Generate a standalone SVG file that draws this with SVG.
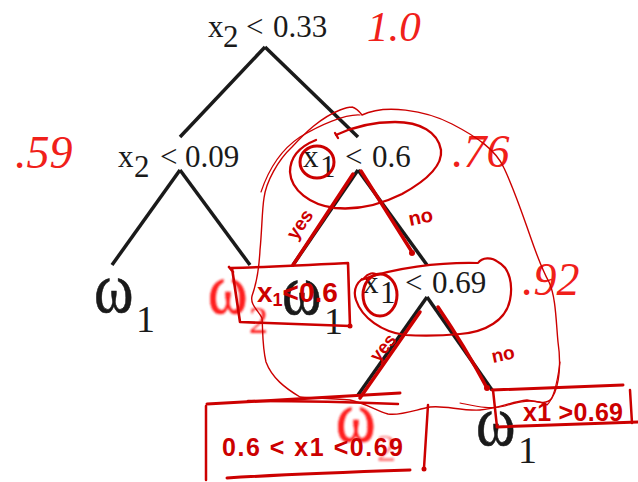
<svg xmlns="http://www.w3.org/2000/svg" width="638" height="482" viewBox="0 0 638 482">
<defs>
<style>
.t{font-family:"Liberation Serif","Times New Roman",serif;fill:#1a1a1a}
.n{font-size:31px}
.w{font-family:"Liberation Serif","Times New Roman",serif;font-size:60px;fill:#1a1a1a;stroke:#1a1a1a;stroke-width:0.5}
.ws{font-family:"Liberation Serif","Times New Roman",serif;font-size:38px;fill:#1a1a1a}
.red{fill:#ff1a1a;stroke:#ff1a1a}
.num{font-family:"Liberation Serif","Times New Roman",serif;fill:#f0201a;font-style:italic}
.ink{fill:none;stroke:#cc0000;stroke-linecap:round;stroke-linejoin:round}
.hw{font-family:"Liberation Sans",Arial,sans-serif;fill:#cc0000;font-weight:bold}
.edge{stroke:#1a1a1a;stroke-width:3.5;fill:none}
</style>
<filter id="blur" x="-20%" y="-20%" width="140%" height="140%"><feGaussianBlur stdDeviation="1.3"/></filter>
</defs>
<rect width="638" height="482" fill="#fff"/>

<g id="connectors">
<line class="edge" x1="265" y1="47" x2="180" y2="137"/>
<line class="edge" x1="265" y1="47" x2="358" y2="137"/>
<line class="edge" x1="180" y1="170" x2="112" y2="265"/>
<line class="edge" x1="180" y1="170" x2="250" y2="265"/>
<line class="edge" x1="358" y1="170" x2="293" y2="265"/>
<line class="edge" x1="358" y1="170" x2="427" y2="265"/>
<line class="edge" x1="427" y1="297" x2="358" y2="395"/>
<line class="edge" x1="427" y1="297" x2="492" y2="390"/>
</g>

<g id="root">
<text class="t n" y="37"><tspan x="208">x</tspan><tspan x="223" y="47">2</tspan><tspan x="246" y="37">&lt;</tspan><tspan x="273">0.33</tspan></text>
<text class="num" x="367" y="41" font-size="43">1.0</text>
</g>

<g id="node-x2-009">
<text class="t n" y="167"><tspan x="118">x</tspan><tspan x="134" y="177">2</tspan><tspan x="160" y="167">&lt;</tspan><tspan x="185">0.09</tspan></text>
<text class="num" x="15" y="168" font-size="46">.59</text>
</g>

<g id="node-x1-06">
<text class="t n" y="167"><tspan x="303">x</tspan><tspan x="320" y="177">1</tspan><tspan x="345" y="167">&lt;</tspan><tspan x="372">0.6</tspan></text>
<text class="num" x="452" y="167" font-size="46">.76</text>
</g>

<g id="node-x1-069">
<text class="t n" y="293"><tspan x="363">x</tspan><tspan x="380" y="303">1</tspan><tspan x="405" y="293">&lt;</tspan><tspan x="432">0.69</tspan></text>
<text class="num" x="522" y="295" font-size="46" font-style="normal">.92</text>
</g>

<g id="leaf-1">
<text class="w" transform="translate(94,312) scale(1,1.2)">ω</text>
<text class="ws" x="136" y="332">1</text>
</g>
<g id="leaf-2" filter="url(#blur)">
<text class="w red" transform="translate(208,313) scale(1,1.2)">ω</text>
<text class="ws red" x="249" y="333" stroke-width="0">2</text>
</g>
<g id="leaf-3">
<text class="w" transform="translate(282,314) scale(1,1.2)">ω</text>
<text class="ws" x="324" y="334">1</text>
</g>
<g id="leaf-4" filter="url(#blur)">
<text class="w red" transform="translate(336,441) scale(1,1.2)">ω</text>
<text class="ws red" x="377" y="461" stroke-width="0" opacity="0.6">2</text>
</g>
<g id="leaf-5">
<text class="w" transform="translate(476,445) scale(1,1.2)">ω</text>
<text class="ws" x="518" y="463">1</text>
</g>

<g id="annotations">
<!-- big outline -->
<path class="ink" stroke-width="1.4" d="M 352,107 C 356,108 359,111 362,115 C 385,104 425,110 452,124 C 477,137 496,150 504,168 C 513,187 520,207 527,227 C 534,247 540,266 549,282 C 556,297 556,322 558,342 C 561,362 560,385 552,398 C 546,406 535,401 527,400 C 510,402 497,409 480,410 C 460,411 445,405 430,407 C 415,410 400,416 388,414 C 375,410 365,403 350,400 C 330,398 310,398 300,397 C 285,388 272,378 266,362 C 262,345 263,330 262,318 C 258,310 250,305 252,296 C 256,285 259,270 260,250 C 262,230 262,210 264,198 C 266,182 278,160 292,147 C 305,133 320,118 340,110 C 345,108 349,107 352,107"/>
<path class="ink" stroke-width="1.2" d="M 360,115 C 345,114 320,125 300,137 C 285,147 270,165 261,192"/>
<path class="ink" stroke-width="1.2" d="M 460,403 C 475,406 490,410 505,406 C 520,401 535,398 547,405 C 553,400 557,385 560,362"/>
<!-- ellipse around x1<0.6 -->
<path class="ink" stroke-width="2.3" d="M 335,133 L 338,138 M 336,135 C 355,126 375,122 395,122 C 420,122 438,132 441,150 C 443,168 422,183 402,194 C 380,205 356,210 335,208 C 310,205 291,190 290,172 C 290,156 301,146 316,140"/>
<ellipse class="ink" stroke-width="3" cx="317" cy="162" rx="17" ry="16"/>
<path class="ink" stroke-width="3.5" d="M 353,174 L 293,265"/>
<path class="ink" stroke-width="3.5" d="M 361,171 L 412,252"/>
<circle cx="412" cy="253" r="3" fill="#cc0000"/>
<text class="hw" font-size="19" transform="translate(296,241) rotate(-55)">yes</text>
<text class="hw" font-size="20" transform="translate(410,226) rotate(-12)">no</text>
<!-- box x1<0.6 -->
<path class="ink" stroke-width="2.6" d="M 229,267 L 233,272 M 231,268 C 270,267 310,265 348,263 L 350,326 C 315,325 275,323 240,322 L 232,268"/>
<circle cx="350" cy="326" r="2.5" fill="#cc0000"/>
<text class="hw" font-size="28" x="257" y="302">x<tspan font-size="18" dy="4">1</tspan><tspan dy="-4">&lt;0.6</tspan></text>
<!-- ellipse around x1<0.69 -->
<path class="ink" stroke-width="2.2" d="M 361,280 C 392,268 440,262 478,263 C 482,257 492,257 498,262 C 510,268 513,285 510,300 C 506,320 486,332 460,334 C 440,336 420,336 405,335 C 382,332 362,318 356,300 C 353,291 356,284 362,279"/>
<path class="ink" stroke-width="2" d="M 364,278 C 368,273 374,272 377,275"/>
<ellipse class="ink" stroke-width="3" cx="380" cy="295" rx="17" ry="21"/>
<path class="ink" stroke-width="3.5" d="M 420,312 L 360,398"/>
<path class="ink" stroke-width="3.5" d="M 438,307 C 455,332 472,360 487,388"/>
<circle cx="487" cy="388" r="3" fill="#cc0000"/>
<text class="hw" font-size="18" transform="translate(378,363) rotate(-50)">yes</text>
<text class="hw" font-size="19" transform="translate(493,363) rotate(-12)">no</text>
<!-- box 0.6 < x1 < 0.69 -->
<path class="ink" stroke-width="3" d="M 207,404 C 270,401 340,396 400,393"/>
<path class="ink" stroke-width="2.5" d="M 248,401 C 300,401 350,402 398,404"/>
<path class="ink" stroke-width="2.5" d="M 206,406 L 206,480"/>
<path class="ink" stroke-width="2.5" d="M 428,405 L 424,468"/>
<circle cx="424" cy="469" r="2.5" fill="#cc0000"/>
<path class="ink" stroke-width="3" d="M 227,478 C 290,474 350,472 410,470"/>
<text class="hw" font-size="25" x="222" y="456" textLength="181" lengthAdjust="spacing">0.6 &lt; x1 &lt;0.69</text>
<!-- box x1 > 0.69 -->
<path class="ink" stroke-width="3" d="M 492,390 L 623,385"/>
<path class="ink" stroke-width="2.5" d="M 493,390 L 497,427"/>
<path class="ink" stroke-width="3" d="M 497,427 L 638,422"/>
<path class="ink" stroke-width="2.5" d="M 630,390 L 632,423"/>
<text class="hw" font-size="25" x="523" y="421" textLength="100" lengthAdjust="spacing">x1 &gt;0.69</text>
</g>
</svg>
